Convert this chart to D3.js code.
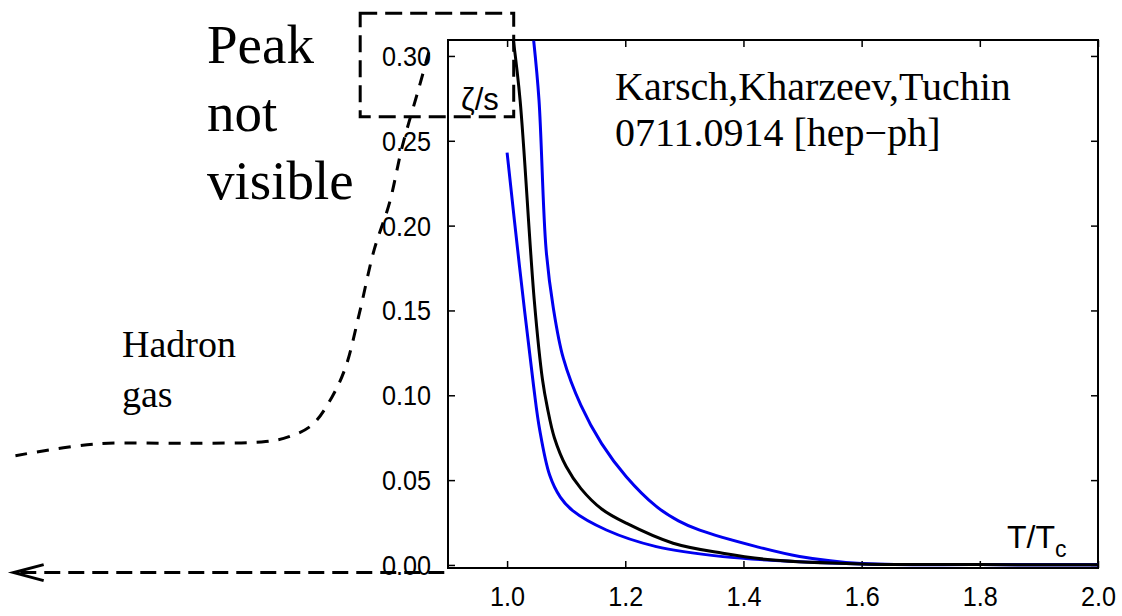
<!DOCTYPE html>
<html>
<head>
<meta charset="utf-8">
<title>bulk viscosity zeta/s</title>
<script src="https://cdn.jsdelivr.net/npm/d3@7"></script>
<style>
body { margin: 0; background: #fff; }
svg { display: block; }
.lbl { font-family: "Liberation Sans", Arial, sans-serif; }
.serif { font-family: "Liberation Serif", "Times New Roman", serif; }
</style>
</head>
<body>
<div id="chart"></div>
<script>
// curves (T/Tc, zeta/s)
const centralT   = [1.0107, 1.022, 1.046, 1.060, 1.068, 1.080, 1.100, 1.125, 1.160, 1.2017, 1.281, 1.365, 1.45, 1.6, 1.8, 2.0];
const centralZ   = [0.309, 0.274, 0.156, 0.109, 0.093, 0.075, 0.058, 0.045, 0.033, 0.0246, 0.0128, 0.0069, 0.0029, 0.0006, 0.0002, 0.0001];
const lowerT     = [1.0, 1.021, 1.045, 1.055, 1.072, 1.090, 1.111, 1.168, 1.2525, 1.365, 1.495, 1.6, 1.8, 2.0];
const lowerZ     = [0.243, 0.176, 0.105, 0.080, 0.053, 0.040, 0.032, 0.0206, 0.0108, 0.0049, 0.0019, 0.0006, 0.0002, 0.0001];
const upperT     = [1.045, 1.054, 1.066, 1.078, 1.095, 1.125, 1.160, 1.2017, 1.2525, 1.290, 1.326, 1.422, 1.495, 1.6, 1.8, 2.0];
const upperZ     = [0.309, 0.274, 0.186, 0.152, 0.122, 0.094, 0.0715, 0.052, 0.0345, 0.026, 0.0205, 0.0108, 0.0050, 0.0008, 0.0002, 0.0001];

// hand-drawn hadron gas sketch, in the same units (extends left of the axis)
const hadronT = [0.168, 0.303, 0.4615, 0.5915, 0.631, 0.670, 0.704, 0.727, 0.750, 0.775, 0.801, 0.8225, 0.8514, 0.870];
const hadronZ = [0.0644, 0.0713, 0.0717, 0.0727, 0.0756, 0.0825, 0.0992, 0.1169, 0.1483, 0.1857, 0.2134, 0.2465, 0.2819, 0.3053];
const arrowT = [0.8937, 0.165];
const arrowZ = -0.0045;
const boxT = [0.7514, 1.0112];
const boxZ = [0.2642, 0.3252];

const xTicks = [1.0, 1.2, 1.4, 1.6, 1.8, 2.0];
const yTicks = [0.00, 0.05, 0.10, 0.15, 0.20, 0.25, 0.30];

const width = 1122, height = 616;
const margin = {top: 40, right: 24, bottom: 48, left: 448};
const pw = width - margin.left - margin.right;
const ph = height - margin.top - margin.bottom;

const svg = d3.select("#chart").append("svg")
	.attr("width", width)
	.attr("height", height);

const x = d3.scaleLinear().domain([0.9, 2.0]).range([margin.left, margin.left + pw]);
const y = d3.scaleLinear().domain([-0.0018, 0.3094]).range([margin.top + ph, margin.top]);

svg.append("defs").append("clipPath").attr("id", "plotclip")
	.append("rect")
	.attr("x", margin.left).attr("y", margin.top)
	.attr("width", pw).attr("height", ph);

// frame
svg.append("rect")
	.attr("x", margin.left).attr("y", margin.top)
	.attr("width", pw).attr("height", ph)
	.attr("fill", "none").attr("stroke", "#000").attr("stroke-width", 2);

// axes with inward ticks on all sides
const fmtY = d3.format(".2f"), fmtX = d3.format(".1f");
const axB = svg.append("g").attr("transform", "translate(0," + (margin.top + ph) + ")")
	.call(d3.axisBottom(x).tickValues(xTicks).tickFormat(fmtX).tickSizeInner(-7).tickSizeOuter(0).tickPadding(19));
const axL = svg.append("g").attr("transform", "translate(" + margin.left + ",0)")
	.call(d3.axisLeft(y).tickValues(yTicks).tickFormat(fmtY).tickSizeInner(-7).tickSizeOuter(0).tickPadding(19));
const axT = svg.append("g").attr("transform", "translate(0," + margin.top + ")")
	.call(d3.axisTop(x).tickValues(xTicks).tickFormat("").tickSizeInner(-7).tickSizeOuter(0));
const axR = svg.append("g").attr("transform", "translate(" + (margin.left + pw) + ",0)")
	.call(d3.axisRight(y).tickValues(yTicks).tickFormat("").tickSizeInner(-7).tickSizeOuter(0));
[axB, axL, axT, axR].forEach(function(g) {
	g.select(".domain").remove();
	g.selectAll(".tick line").attr("stroke", "#000").attr("stroke-width", 1.5);
	g.selectAll(".tick text").attr("fill", "#000").attr("font-size", 28)
		.attr("font-family", "'Liberation Sans', Arial, sans-serif")
		.attr("transform", "scale(0.9,1)");
});
axB.selectAll(".tick text").attr("dy", "0.68em");
axL.selectAll(".tick text").attr("dy", "0.34em");

// curves
const line = d3.line().x(d => x(d[0])).y(d => y(d[1])).curve(d3.curveCatmullRom.alpha(0.5));
const curves = svg.append("g").attr("clip-path", "url(#plotclip)");
function addCurve(ts, zs, col) {
	curves.append("path")
		.datum(d3.zip(ts, zs))
		.attr("d", line)
		.attr("fill", "none")
		.attr("stroke", col)
		.attr("stroke-width", 3);
}
addCurve(lowerT, lowerZ, "#0000f0");
addCurve(upperT, upperZ, "#0000f0");
addCurve(centralT, centralZ, "#000");

// labels
svg.append("text").attr("class", "lbl").attr("x", 461).attr("y", 110)
	.attr("font-size", 31).text("ζ/s");
const tt = svg.append("text").attr("class", "lbl").attr("x", 1007).attr("y", 548)
	.attr("font-size", 32);
tt.append("tspan").text("T/T");
tt.append("tspan").attr("font-size", 23).attr("dy", 9).text("c");

svg.append("text").attr("class", "serif").attr("x", 615).attr("y", 100)
	.attr("font-size", 40).text("Karsch,Kharzeev,Tuchin");
svg.append("text").attr("class", "serif").attr("x", 615).attr("y", 146)
	.attr("font-size", 40).text("0711.0914 [hep\u2212ph]");

["Peak", "not", "visible"].forEach(function(s, i) {
	svg.append("text").attr("class", "serif").attr("x", 207).attr("y", 63 + i * 68)
		.attr("font-size", 55).text(s);
});
["Hadron", "gas"].forEach(function(s, i) {
	svg.append("text").attr("class", "serif").attr("x", 122).attr("y", 357 + i * 50)
		.attr("font-size", 38).text(s);
});

// dashed annotations
const sketch = d3.line().x(d => x(d[0])).y(d => y(d[1])).curve(d3.curveCatmullRom);
svg.append("path")
	.datum(d3.zip(hadronT, hadronZ))
	.attr("d", sketch)
	.attr("fill", "none").attr("stroke", "#000")
	.attr("stroke-width", 3).attr("stroke-dasharray", "12,10");

svg.append("rect")
	.attr("x", x(boxT[0])).attr("y", y(boxZ[1]))
	.attr("width", x(boxT[1]) - x(boxT[0])).attr("height", y(boxZ[0]) - y(boxZ[1]))
	.attr("fill", "none").attr("stroke", "#000")
	.attr("stroke-width", 3).attr("stroke-dasharray", "17,8");

const ay = y(arrowZ);
svg.append("line")
	.attr("x1", x(arrowT[0])).attr("y1", ay)
	.attr("x2", x(arrowT[1]) + 2).attr("y2", ay)
	.attr("stroke", "#000").attr("stroke-width", 3).attr("stroke-dasharray", "16,8");
svg.append("path")
	.attr("d", "M" + (x(arrowT[1]) + 30) + "," + (ay - 8) + "L" + x(arrowT[1]) + "," + ay + "L" + (x(arrowT[1]) + 30) + "," + (ay + 8))
	.attr("fill", "none").attr("stroke", "#000").attr("stroke-width", 3);
</script>
</body>
</html>
